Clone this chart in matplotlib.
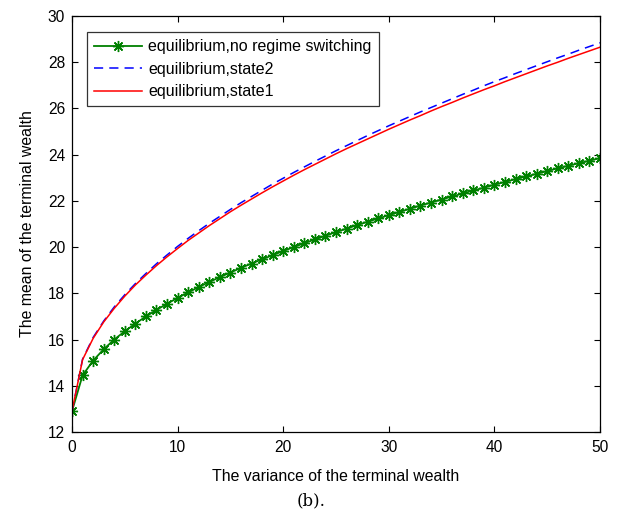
import matplotlib
matplotlib.use("Agg")
import matplotlib.pyplot as plt

variance = list(range(0, 51))

mean_no_switch = [12.90, 14.45, 15.09, 15.58, 16.00, 16.36, 16.69, 17.00, 17.28, 17.55,
                  17.80, 18.04, 18.27, 18.49, 18.70, 18.90, 19.10, 19.29, 19.47, 19.65,
                  19.83, 20.00, 20.17, 20.33, 20.49, 20.65, 20.80, 20.95, 21.10, 21.24,
                  21.38, 21.52, 21.66, 21.80, 21.93, 22.06, 22.19, 22.32, 22.45, 22.57,
                  22.70, 22.82, 22.94, 23.06, 23.17, 23.29, 23.41, 23.52, 23.63, 23.74,
                  23.85]

mean_state2 = [12.90, 15.15, 16.09, 16.80, 17.41, 17.94, 18.42, 18.86, 19.28, 19.66,
               20.03, 20.38, 20.71, 21.03, 21.33, 21.63, 21.92, 22.19, 22.46, 22.73,
               22.98, 23.23, 23.47, 23.71, 23.94, 24.17, 24.39, 24.61, 24.83, 25.04,
               25.25, 25.45, 25.65, 25.85, 26.04, 26.23, 26.42, 26.61, 26.79, 26.98,
               27.16, 27.33, 27.51, 27.68, 27.85, 28.02, 28.19, 28.35, 28.52, 28.68,
               28.84]

mean_state1 = [12.90, 15.13, 16.05, 16.76, 17.35, 17.88, 18.36, 18.79, 19.20, 19.58,
               19.94, 20.29, 20.61, 20.93, 21.23, 21.53, 21.81, 22.08, 22.35, 22.61,
               22.86, 23.11, 23.35, 23.58, 23.81, 24.04, 24.26, 24.47, 24.68, 24.89,
               25.10, 25.30, 25.50, 25.69, 25.89, 26.08, 26.26, 26.45, 26.63, 26.81,
               26.98, 27.16, 27.33, 27.50, 27.67, 27.84, 28.00, 28.17, 28.33, 28.49,
               28.65]

xticks = [0, 10, 20, 30, 40, 50]
yticks = [12, 14, 16, 18, 20, 22, 24, 26, 28, 30]

plt.rcParams['font.family'] = ['Liberation Sans', 'DejaVu Sans']

fig = plt.figure(figsize=(6.22, 5.15), dpi=100)
ax = fig.add_axes([72/622, 1-432/515, (600-72)/622, (432-16)/515])

ax.plot(variance, mean_no_switch, color='#008000', lw=1.3, marker=(8, 2, 0),
        markersize=8, markeredgewidth=1.0, label='equilibrium,no regime switching')
ax.plot(variance, mean_state2, color='#0000ff', lw=1.1, linestyle=(0, (6, 4)),
        label='equilibrium,state2')
ax.plot(variance, mean_state1, color='#ff0000', lw=1.1, label='equilibrium,state1')

ax.set_xlim(0, 50)
ax.set_ylim(12, 30)
ax.set_xticks(xticks)
ax.set_yticks(yticks)
ax.tick_params(direction='in', top=True, right=True, length=4, width=0.8,
               labelsize=11.2, pad=5)
ax.tick_params(axis='x', pad=6)
for s in ax.spines.values():
    s.set_linewidth(0.9)

ax.set_xlabel('The variance of the terminal wealth', fontsize=11.4, labelpad=10)
ax.set_ylabel('The mean of the terminal wealth', fontsize=11.4, labelpad=9)

leg = ax.legend(loc='upper left', bbox_to_anchor=(15/528, 1-16/416), fontsize=11.5,
                frameon=True, fancybox=False, edgecolor='black', handlelength=3.0,
                borderpad=0.45, labelspacing=0.47, handletextpad=0.4, borderaxespad=0)
leg.get_frame().set_linewidth(0.9)

fig.text(311/622, 1-501/515, '(b).', ha='center', va='center', fontsize=12,
         family=['DejaVu Serif'])

fig.savefig('out.png', dpi=100)
